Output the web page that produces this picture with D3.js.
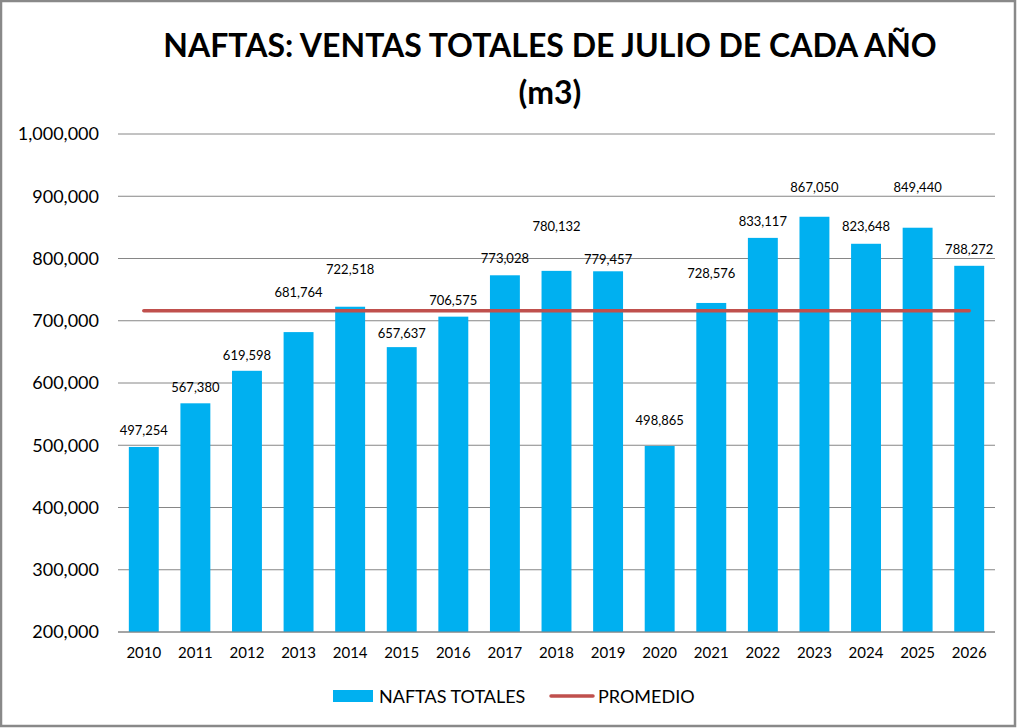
<!DOCTYPE html>
<html>
<head>
<meta charset="utf-8">
<script src="https://cdn.jsdelivr.net/npm/d3@7"></script>
<style>
  body { margin: 0; background: #fff; }
  text { font-family: Lato, "Open Sans", sans-serif; fill: #000; }
</style>
</head>
<body>
<div id="chart"></div>
<script>
// data
const years = ["2010", "2011", "2012", "2013", "2014", "2015", "2016", "2017", "2018",
  "2019", "2020", "2021", "2022", "2023", "2024", "2025", "2026"];
const naftasTotales = [497254, 567380, 619598, 681764, 722518, 657637, 706575, 773028,
  780132, 779457, 498865, 728576, 833117, 867050, 823648, 849440, 788272];
const promedio = 716136;
const yTicks = [200000, 300000, 400000, 500000, 600000, 700000, 800000, 900000, 1000000];
const titleLines = ["NAFTAS: VENTAS TOTALES DE JULIO DE CADA AÑO", "(m3)"];
const seriesNames = ["NAFTAS TOTALES", "PROMEDIO"];

const W = 1018, H = 728;
const plot = { left: 118, right: 995, top: 134, bottom: 632 };

// label lift above bar top (px), as hand-placed in the original
const labelLift = [17, 16, 16, 40, 38, 14, 17, 17, 45, 12, 26, 30, 17, 30, 18, 41, 17];

const svg = d3.select("#chart").append("svg")
  .attr("width", W).attr("height", H);

svg.append("rect")
  .attr("x", 1).attr("y", 1).attr("width", W - 4).attr("height", H - 3)
  .attr("fill", "#fff").attr("stroke", "#898989").attr("stroke-width", 2.5);

const x = d3.scaleBand().domain(years).range([plot.left, plot.right])
  .paddingInner(0.42).paddingOuter(0.21);
const y = d3.scaleLinear().domain([200000, 1000000]).range([plot.bottom, plot.top]);
const fmt = d3.format(",");

// gridlines
svg.append("g")
  .selectAll("line")
  .data(yTicks)
  .join("line")
  .attr("x1", plot.left).attr("x2", plot.right)
  .attr("y1", (d) => y(d)).attr("y2", (d) => y(d))
  .attr("stroke", "#868686").attr("stroke-width", 1);

// y axis labels
svg.append("g")
  .attr("transform", `translate(${plot.left - 19},0)`)
  .call(d3.axisLeft(y).tickValues(yTicks).tickFormat(fmt).tickSize(0).tickPadding(0))
  .call((g) => g.select(".domain").remove())
  .selectAll("text")
  .style("font-family", "Lato, 'Open Sans', sans-serif")
  .style("font-size", "18px")
  .attr("fill", "#000");

// x axis labels
svg.append("g")
  .attr("transform", `translate(0,${plot.bottom})`)
  .call(d3.axisBottom(x).tickSize(0).tickPadding(15))
  .call((g) => g.select(".domain").remove())
  .selectAll("text")
  .style("font-family", "Lato, 'Open Sans', sans-serif")
  .style("font-size", "15px")
  .attr("fill", "#000");

// bars
svg.append("g")
  .selectAll("rect")
  .data(naftasTotales)
  .join("rect")
  .attr("x", (d, i) => x(years[i]))
  .attr("width", x.bandwidth())
  .attr("y", (d) => y(d))
  .attr("height", (d) => plot.bottom - y(d))
  .attr("fill", "#00B0F0");

// bottom axis line over bars
svg.append("line")
  .attr("x1", plot.left).attr("x2", plot.right)
  .attr("y1", y(200000)).attr("y2", y(200000))
  .attr("stroke", "#868686").attr("stroke-width", 1);

// average line
const line = d3.line()
  .x((d) => x(d) + x.bandwidth() / 2)
  .y(() => y(promedio));
svg.append("path")
  .datum(years)
  .attr("d", line)
  .attr("fill", "none")
  .attr("stroke", "#C0504D")
  .attr("stroke-width", 3.5)
  .attr("stroke-linecap", "round");

// data labels
svg.append("g")
  .selectAll("text")
  .data(naftasTotales)
  .join("text")
  .attr("x", (d, i) => x(years[i]) + x.bandwidth() / 2)
  .attr("y", (d, i) => y(d) - labelLift[i])
  .attr("text-anchor", "middle")
  .attr("dominant-baseline", "central")
  .style("font-size", "13px")
  .text((d) => fmt(d));

// title
svg.append("g")
  .selectAll("text")
  .data(titleLines)
  .join("text")
  .attr("x", 550)
  .attr("y", (d, i) => 44 + i * 47)
  .attr("text-anchor", "middle")
  .attr("dominant-baseline", "central")
  .style("font-size", "32px")
  .style("font-weight", "bold")
  .text((d) => d);

// legend
const legend = svg.append("g");
legend.append("rect")
  .attr("x", 333).attr("y", 690).attr("width", 40).attr("height", 12)
  .attr("fill", "#00B0F0");
legend.append("text")
  .attr("x", 379).attr("y", 696)
  .attr("dominant-baseline", "central")
  .style("font-size", "18px")
  .text(seriesNames[0]);
legend.append("line")
  .attr("x1", 551).attr("x2", 593).attr("y1", 696).attr("y2", 696)
  .attr("stroke", "#C0504D").attr("stroke-width", 3.5)
  .attr("stroke-linecap", "round");
legend.append("text")
  .attr("x", 598).attr("y", 696)
  .attr("dominant-baseline", "central")
  .style("font-size", "18px")
  .text(seriesNames[1]);
</script>
</body>
</html>
